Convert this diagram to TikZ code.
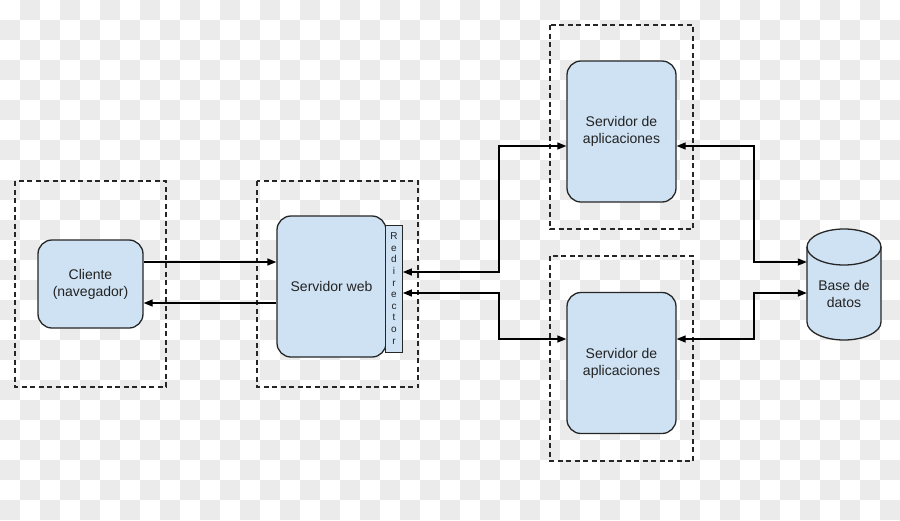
\documentclass[tikz,border=0pt]{standalone}
\usepackage{fontspec}
\setmainfont{Liberation Sans}
\usetikzlibrary{arrows.meta}
\definecolor{boxblue}{HTML}{CFE2F3}
\definecolor{checkgray}{HTML}{EBEBEB}
\definecolor{txt}{HTML}{222222}
\tikzset{
  group/.style={draw=black!85, line width=1.3pt, dash pattern=on 5pt off 3.5pt},
  server/.style={draw=black!85, fill=boxblue, line width=1.3pt, rounded corners=14pt,
    align=center, text=txt, font=\fontsize{14}{17}\selectfont, inner sep=0pt},
  redirbox/.style={draw=black!85, fill=boxblue, line width=0.8pt, align=center,
    text=txt, font=\fontsize{10}{11.6}\selectfont, inner sep=0pt},
  conn/.style={draw=black, line width=1.3pt, -{Triangle[length=9pt,width=7pt]}},
  conn2/.style={draw=black, line width=1.3pt, {Triangle[length=9pt,width=7pt]}-{Triangle[length=9pt,width=7pt]}},
  lbl/.style={align=center, text=txt, font=\fontsize{14}{17}\selectfont, inner sep=0pt}
}
\begin{document}
\begin{tikzpicture}[x=1pt,y=1pt]
\useasboundingbox (0,0) rectangle (900,-520);
\fill[white] (0,0) rectangle (900,-520);
% checkerboard background
\foreach \i in {0,...,44}{
  \foreach \j in {0,...,25}{
    \pgfmathtruncatemacro\chk{mod(\i+\j,2)}
    \ifnum\chk=1
      \fill[checkgray] (20*\i,-20*\j) rectangle (20*\i+20,-20*\j-20);
    \fi
  }
}
% dashed groups
\draw[group] (15,-181) rectangle (166,-387);
\draw[group] (257,-181) rectangle (418,-387);
\draw[group] (550,-25) rectangle (693,-229);
\draw[group] (550,-256) rectangle (693,-461);
% nodes
\node[server, minimum width=105pt, minimum height=88pt] (cl) at (90.5,-284) {Cliente\\(navegador)};
\node[server, minimum width=109pt, minimum height=141pt] (web) at (331.5,-286.5) {Servidor web};
\node[redirbox, minimum width=17pt, minimum height=127pt] (rd) at (394,-288.5) {R\\e\\d\\i\\r\\e\\c\\t\\o\\r};
\node[server, minimum width=109pt, minimum height=141pt] (ap1) at (621.5,-131.5) {Servidor de\\aplicaciones};
\node[server, minimum width=109pt, minimum height=141pt] (ap2) at (621.5,-363) {Servidor de\\aplicaciones};
% database cylinder
\node[minimum width=74pt, minimum height=111pt, inner sep=0pt] (db) at (844,-284.5) {};
\draw[draw=black!85, fill=boxblue, line width=1.3pt]
  (807,-247) -- (807,-322) arc[start angle=180, end angle=360, x radius=37pt, y radius=18pt]
  -- (881,-247) arc[start angle=0, end angle=180, x radius=37pt, y radius=18pt] -- cycle;
\draw[draw=black!85, line width=1.3pt]
  (807,-247) arc[start angle=180, end angle=360, x radius=37pt, y radius=18pt];
\node[lbl] (dbt) at (db.center) [yshift=-9pt] {Base de\\datos};
% connectors
\draw[conn] (cl.east |- 0,-262) -- (web.west |- 0,-262);
\draw[conn] (web.west |- 0,-303) -- (cl.east |- 0,-303);
\draw[conn2] (rd.east |- 0,-272) -- (499,-272) |- (ap1.west |- 0,-146);
\draw[conn2] (rd.east |- 0,-293) -- (499,-293) |- (ap2.west |- 0,-339);
\draw[conn2] (ap1.east |- 0,-146) -- (754,-146) |- (db.west |- 0,-262);
\draw[conn2] (ap2.east |- 0,-339) -- (754,-339) |- (db.west |- 0,-293);
\end{tikzpicture}
\end{document}
